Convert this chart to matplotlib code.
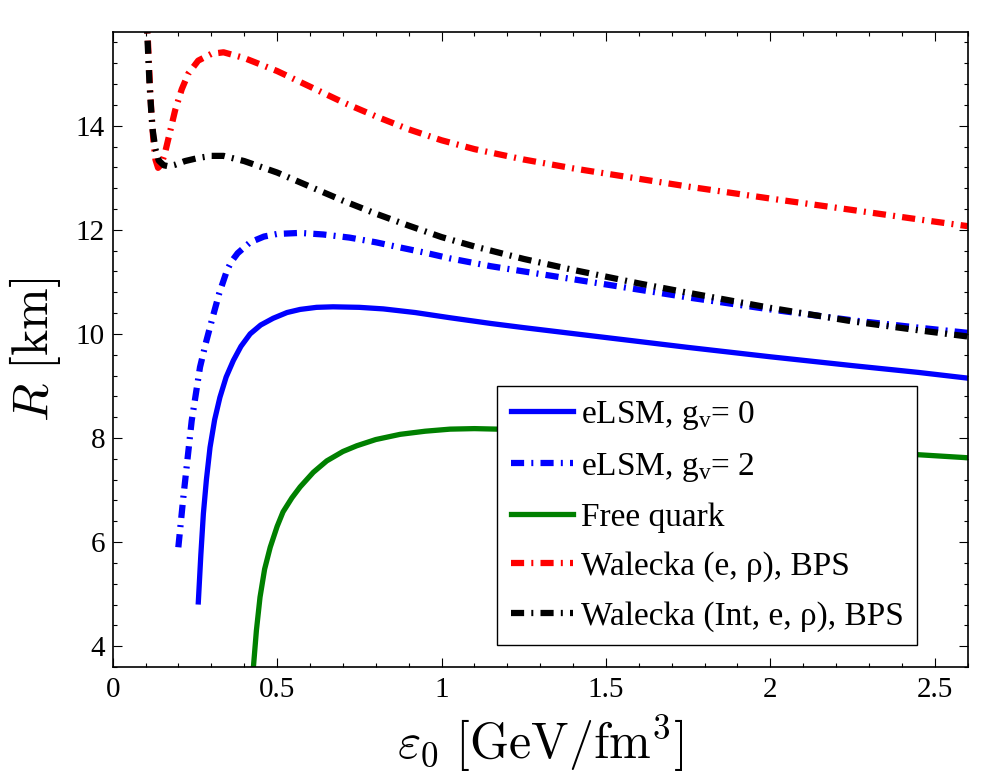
import matplotlib
matplotlib.use("Agg")
import matplotlib.pyplot as plt
from matplotlib.ticker import MultipleLocator

# radio R [km] vs densidad central eps0 [GeV/fm^3]
eps_g0 = [0.2604, 0.268, 0.2757, 0.285, 0.296, 0.31, 0.326, 0.345, 0.367, 0.39,
          0.418, 0.45, 0.488, 0.53, 0.57, 0.62, 0.67, 0.75, 0.823, 0.92, 1.026,
          1.15, 1.25, 1.5, 1.75, 2.0, 2.25, 2.45, 2.6]
R_g0 = [4.85, 5.75, 6.54, 7.2, 7.82, 8.35, 8.78, 9.17, 9.49, 9.76,
        10.0, 10.17, 10.3, 10.41, 10.47, 10.51, 10.52, 10.51, 10.48, 10.41, 10.31,
        10.2, 10.12, 9.93, 9.74, 9.56, 9.39, 9.26, 9.15]

eps_g2 = [0.1996, 0.2148, 0.2402, 0.2655, 0.283, 0.301, 0.324, 0.347, 0.36, 0.38,
          0.418, 0.46, 0.5, 0.57, 0.64, 0.72, 0.8, 0.874, 0.95, 1.026,
          1.15, 1.25, 1.4, 1.5, 1.75, 2.0, 2.25, 2.45, 2.6]
R_g2 = [5.9, 6.86, 8.33, 9.36, 9.82, 10.25, 10.78, 11.21, 11.38, 11.55,
        11.76, 11.87, 11.92, 11.94, 11.91, 11.85, 11.76, 11.66, 11.56, 11.45,
        11.3, 11.2, 11.05, 10.95, 10.7, 10.47, 10.26, 10.12, 10.02]

eps_free = [0.426, 0.437, 0.448, 0.462, 0.479, 0.5, 0.518, 0.545, 0.57, 0.61,
            0.651, 0.7, 0.742, 0.8, 0.874, 0.95, 1.026, 1.1, 1.17, 1.3,
            1.5, 1.75, 2.0, 2.25, 2.446, 2.6]
R_free = [3.45, 4.3, 4.94, 5.48, 5.9, 6.3, 6.58, 6.85, 7.06, 7.34,
          7.56, 7.74, 7.85, 7.97, 8.07, 8.13, 8.17, 8.18, 8.17, 8.14,
          8.07, 7.97, 7.86, 7.76, 7.68, 7.62]

eps_wal = [0.103, 0.108, 0.113, 0.118, 0.124, 0.130, 0.138, 0.147, 0.158, 0.175,
           0.19, 0.21, 0.23, 0.26, 0.30, 0.337, 0.4, 0.5, 0.6, 0.7,
           0.8, 0.9, 1.0, 1.1, 1.25, 1.4, 1.5, 1.75, 2.0, 2.25,
           2.45, 2.6]
R_wal = [16.2, 15.5, 14.8, 14.2, 13.7, 13.35, 13.19, 13.25, 13.45, 13.9,
         14.3, 14.7, 15.0, 15.25, 15.38, 15.41, 15.3, 15.05, 14.75, 14.45,
         14.18, 13.93, 13.72, 13.55, 13.35, 13.18, 13.08, 12.83, 12.6, 12.38,
         12.2, 12.07]

eps_int = [0.102, 0.107, 0.112, 0.117, 0.122, 0.130, 0.140, 0.155, 0.17, 0.19,
           0.22, 0.26, 0.30, 0.337, 0.4, 0.5, 0.6, 0.7, 0.8, 0.9,
           1.0, 1.1, 1.25, 1.4, 1.5, 1.6, 1.75, 2.0, 2.25, 2.45, 2.6]
R_int = [16.2, 15.5, 14.8, 14.3, 13.9, 13.55, 13.33, 13.24, 13.22, 13.25,
         13.32, 13.38, 13.42, 13.42, 13.32, 13.1, 12.83, 12.56, 12.31, 12.08,
         11.86, 11.68, 11.44, 11.23, 11.1, 10.97, 10.79, 10.5, 10.24, 10.07, 9.95]

labels = ['eLSM, g$_\\mathregular{v}$= 0', 'eLSM, g$_\\mathregular{v}$= 2', 'Free quark',
          'Walecka (e, \u03c1), BPS', 'Walecka (Int, e, \u03c1), BPS']

xticks = [0, 0.5, 1, 1.5, 2, 2.5]
xticklabels = ['0', '0.5', '1', '1.5', '2', '2.5']
yticks = [4, 6, 8, 10, 12, 14]

plt.rcParams['font.family'] = ['Liberation Serif', 'DejaVu Serif']
plt.rcParams['mathtext.fontset'] = 'custom'
plt.rcParams['mathtext.rm'] = 'Liberation Serif'
plt.rcParams['mathtext.it'] = 'Liberation Serif:italic'

fig = plt.figure(figsize=(9.96, 7.78), dpi=100)
ax = fig.add_axes([0.11315, 0.14267, 0.8584, 0.8162])

dd = (0, (2.1, 1.15, 0.32, 1.15))  # raya-punto estilo matlab
ax.plot(eps_g0, R_g0, color='#0000ff', lw=3.8, label=labels[0])
ax.plot(eps_g2, R_g2, color='#0000ff', lw=4.5, ls=dd, label=labels[1])
ax.plot(eps_free, R_free, color='#008000', lw=3.8, label=labels[2])
ax.plot(eps_wal, R_wal, color='#ff0000', lw=4.5, ls=dd, label=labels[3])
ax.plot(eps_int, R_int, color='black', lw=4.5, ls=dd, label=labels[4])

ax.set_xlim(0, 2.6)
ax.set_ylim(3.6, 15.8)
ax.set_xticks(xticks)
ax.set_xticklabels(xticklabels)
ax.set_yticks(yticks)
ax.xaxis.set_minor_locator(MultipleLocator(0.1))
ax.yaxis.set_minor_locator(MultipleLocator(0.4))
ax.tick_params(which='both', direction='in', top=True, right=True, width=0.8)
ax.tick_params(which='major', length=6.5, labelsize=21)
ax.tick_params(which='minor', length=3)
ax.tick_params(axis='x', pad=7)
ax.tick_params(axis='y', pad=5.5)
for s in ax.spines.values():
    s.set_linewidth(1.2)

ax.set_xlabel(r'$\varepsilon_0\ [\mathrm{GeV/fm^3}]$', fontsize=36, math_fontfamily='cm')
ax.set_ylabel(r'$R\ [\mathrm{km}]$', fontsize=36, math_fontfamily='cm')
ax.xaxis.set_label_coords(0.5, -0.072)
ax.yaxis.set_label_coords(-0.058, 0.5)

leg = ax.legend(loc='lower right', bbox_to_anchor=(0.9407, 0.0346), borderaxespad=0,
                fontsize=24, handlelength=1.86, handletextpad=0.24, borderpad=0.4,
                labelspacing=0.56, fancybox=False, framealpha=1, edgecolor='black')
leg.get_frame().set_linewidth(1.0)

plt.savefig('out.png', dpi=100)
